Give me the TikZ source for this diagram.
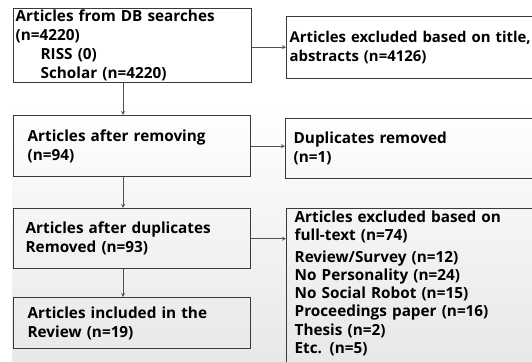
\documentclass[tikz,border=0pt]{standalone}
\usepackage{fontspec}
\setmainfont{Open Sans}
\usepackage{tikz}
\usetikzlibrary{calc}
\definecolor{frame}{HTML}{3A3A3A}
\definecolor{wire}{HTML}{505050}
\definecolor{haze}{HTML}{E8E8E8}

\tikzset{
  stage/.style={draw=frame,line width=1.3pt,rectangle,anchor=north west,align=left,
    inner ysep=0pt,font=\fontsize{15.3}{19}\selectfont\bfseries},
  flow/.style={wire,line width=0.8pt,->,>=stealth}
}

\begin{document}
\begin{tikzpicture}[x=1pt,y=-1pt]
  \useasboundingbox (0,0) rectangle (532,361);
  \fill[white] (0,0) rectangle (532,361);
  \shade[top color=white,bottom color=haze] (12,100) rectangle (532,361);
  % left column
  \node[stage,inner xsep=2pt,text width=234pt,minimum height=74pt] (src) at (13,8)
       {Articles from DB searches\\(n=4220)\\\hspace*{25pt}RISS (0)\\\hspace*{25pt}Scholar (n=4220)};
  \node[stage,inner xsep=14pt,text width=209pt,minimum height=61pt] (rem) at (13,115)
       {Articles after removing\\(n=94)};
  \node[stage,inner xsep=12pt,text width=213pt,minimum height=60pt] (dedup) at (13,208)
       {Articles after duplicates\\Removed (n=93)};
  \node[stage,inner xsep=14pt,text width=209pt,minimum height=51pt] (incl) at (13,297)
       {Articles included in the\\Review (n=19)};
  % right column
  \node[stage,inner xsep=3pt,text width=254pt,minimum height=62pt,
        font=\fontsize{14.9}{19}\selectfont\bfseries] (excl) at (286,16)
       {Articles excluded based on title,\\abstracts (n=4126)};
  \node[stage,inner xsep=8pt,text width=244pt,minimum height=60pt] (dup) at (285,118)
       {Duplicates removed\\(n=1)};
  \node[stage,inner xsep=8pt,text width=244pt,minimum height=166pt,text depth=150pt,
        font=\fontsize{15.3}{18.3}\selectfont\bfseries] (full) at (286,208)
       {Articles excluded based on\\full-text (n=74)\\[3pt]Review/Survey (n=12)\\No Personality (n=24)\\
        No Social Robot (n=15)\\Proceedings paper (n=16)\\Thesis (n=2)\\Etc. (n=5)};
  % connectors
  \coordinate (spine) at (123,0);
  \draw[flow] (src.south -| spine) -- (rem.north -| spine);
  \draw[flow] (rem.south -| spine) -- (dedup.north -| spine);
  \draw[flow] (dedup.south -| spine) -- (incl.north -| spine);
  \draw[flow] ($(src.east)+(0,1.5)$) -- ($(src.east -| excl.west)+(0,1.5)$);
  \draw[flow] (rem.east) -- (rem.east -| dup.west);
  \draw[flow] (dedup.east) -- (dedup.east -| full.west);
\end{tikzpicture}
\end{document}
